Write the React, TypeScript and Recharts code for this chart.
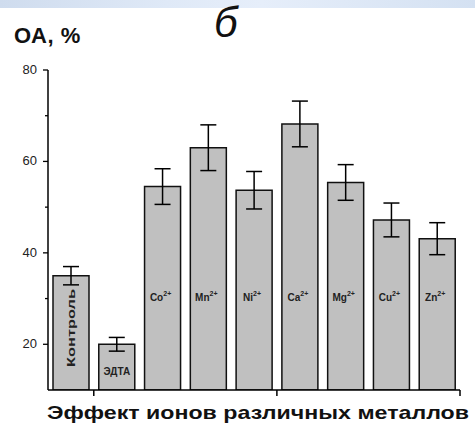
import React from 'react';
import { BarChart, Bar, XAxis, YAxis, ErrorBar, LabelList } from 'recharts';

const positions = [1, 2, 3, 4, 5, 6, 7, 8, 9];
const labels = ['Контроль', 'ЭДТА', 'Co', 'Mn', 'Ni', 'Ca', 'Mg', 'Cu', 'Zn'];
const values = [35, 20, 54.5, 63, 53.7, 68.2, 55.4, 47.2, 43.1];
const errors = [2, 1.5, 3.9, 5, 4.1, 5, 3.9, 3.7, 3.5];
const yTicks = [20, 30, 40, 50, 60, 70, 80];
const xTicks = [1.5, 5.5, 9.5];

const data = positions.map((p, i) => ({ x: p, v: values[i], err: errors[i], label: labels[i] }));

const FONT = '"Liberation Sans", Arial, sans-serif';

const YTick = (props: any) => {
  const { x, y, payload } = props;
  const major = payload.value % 20 === 0;
  const axisX = x + 4 + 5;
  return (
    <g>
      <line x1={axisX - (major ? 5 : 3)} x2={axisX} y1={y} y2={y} stroke="#000" strokeWidth={1.3} />
      {major && (
        <text x={x - 2} y={y} dy={4} textAnchor="end" fontFamily={FONT} fontSize={13} fill="#222">
          {payload.value}
        </text>
      )}
    </g>
  );
};

const BarText = (props: any) => {
  const { x, y, width, height, value } = props;
  const cx = x + width / 2;
  const bottom = y + height;
  if (value === 'Контроль') {
    const cy = bottom - 62;
    return (
      <text x={cx} y={cy} transform={`rotate(-90 ${cx} ${cy})`} textAnchor="middle" dy={4}
        fontFamily={FONT} fontSize={10} fontWeight="bold" fill="#222" textLength={78} lengthAdjust="spacingAndGlyphs">
        {value}
      </text>
    );
  }
  if (value === 'ЭДТА') {
    return (
      <text x={cx} y={bottom - 15} textAnchor="middle" fontFamily={FONT} fontSize={10} fontWeight="bold" fill="#222">
        {value}
      </text>
    );
  }
  return (
    <text x={cx - 2} y={bottom - 89} textAnchor="middle" fontFamily={FONT} fontSize={10} fontWeight="bold" fill="#222">
      {value}
      <tspan dy={-5} fontSize={7}>2+</tspan>
    </text>
  );
};

const XTitle = (props: any) => {
  const vb = props.viewBox || {};
  const cx = vb.x + vb.width / 2;
  return (
    <text x={cx + 4} y={419} textAnchor="middle" fontFamily={FONT} fontSize={19} fontWeight="bold" fill="#111"
      textLength={422} lengthAdjust="spacingAndGlyphs">
      Эффект ионов различных металлов
    </text>
  );
};

export default function App() {
  return (
    <div style={{ position: 'fixed', left: 0, top: 0, width: 475, height: 425, background: '#fff', overflow: 'hidden' }}>
      <div style={{ position: 'absolute', left: 0, top: 0, width: 475, height: 8,
        background: 'linear-gradient(90deg, #cfdcee 0%, #dfe9f7 35%, #e6eefa 55%, #d4e1f2 100%)' }} />
      <div style={{ position: 'absolute', left: 14, top: 23, fontFamily: FONT, fontWeight: 'bold', fontSize: 22, color: '#111', letterSpacing: 0.5 }}>
        ОА, %
      </div>
      <div style={{ position: 'absolute', left: 214, top: 0, fontFamily: FONT, fontStyle: 'italic', fontSize: 42, color: '#111', lineHeight: '46px' }}>
        б
      </div>
      <div style={{ position: 'absolute', left: 0, top: 0 }}>
        <BarChart width={475} height={425} data={data} margin={{ top: 70, right: 15, bottom: 0, left: 8 }}>
          <XAxis dataKey="x" type="number" domain={[0.5, 9.5]} ticks={xTicks} tickFormatter={() => ''}
            stroke="#000" strokeWidth={1.5} tickSize={6} height={35} allowDataOverflow label={<XTitle />} />
          <YAxis type="number" domain={[10, 80]} ticks={yTicks} tick={<YTick />} tickLine={false}
            tickSize={5} tickMargin={4} stroke="#000" strokeWidth={1.5} width={40} allowDataOverflow interval={0} />
          <Bar dataKey="v" fill="#c0c0c0" stroke="#111" strokeWidth={1.5} barSize={36} isAnimationActive={false}>
            <ErrorBar dataKey="err" width={8} stroke="#000" strokeWidth={1.5} />
            <LabelList dataKey="label" content={<BarText />} />
          </Bar>
        </BarChart>
      </div>
    </div>
  );
}
